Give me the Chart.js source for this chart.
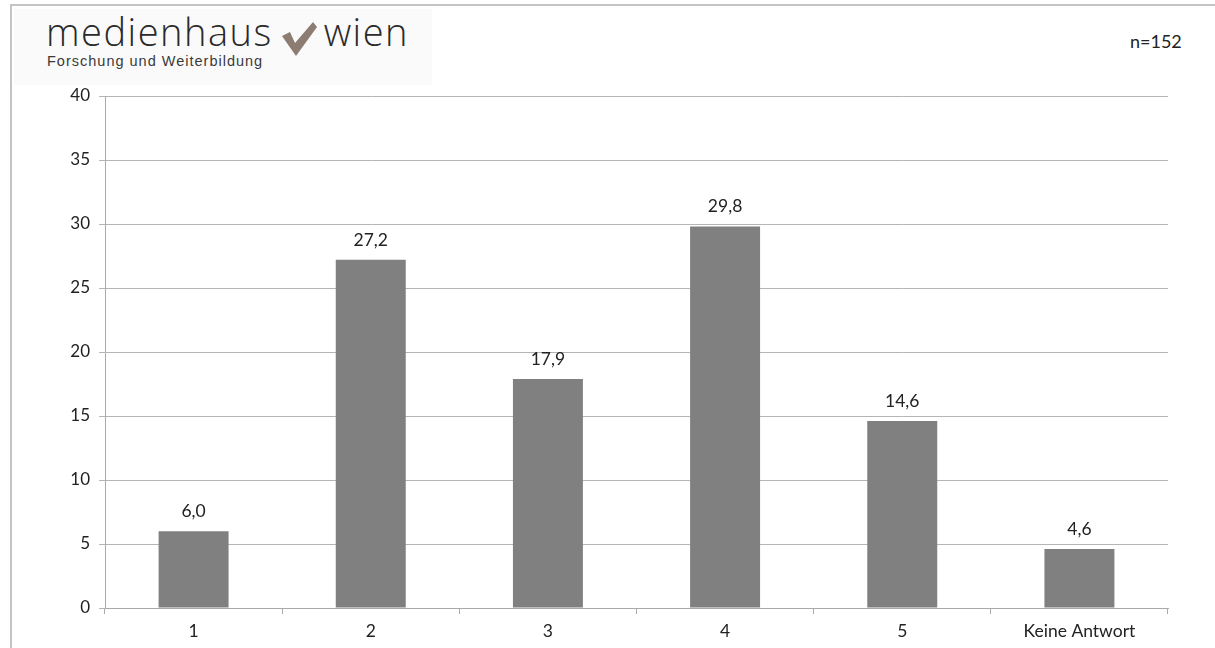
<!DOCTYPE html>
<html>
<head>
<meta charset="utf-8">
<script src="https://cdn.jsdelivr.net/npm/chart.js@4"></script>
<style>
  html, body { margin:0; padding:0; background:#fff; }
  #wrap { position:relative; width:1215px; height:648px; overflow:hidden; background:#fff; }
  #frameTop { position:absolute; left:10px; top:4px; width:1205px; height:2px; background:#c4c4c4; }
  #frameLeft { position:absolute; left:10px; top:4px; width:2px; height:644px; background:#c4c4c4; }
  #logo { position:absolute; left:14px; top:9px; width:418px; height:76px; background:#fafafa; }
  #logoMain { position:absolute; left:32px; top:2px; font-family:"Open Sans","Liberation Sans",sans-serif; font-weight:300; font-size:38px; color:#2a2a2a; white-space:nowrap; line-height:40px; letter-spacing:1.5px; }
  #logoMain .chk { display:inline-block; width:35px; height:35px; vertical-align:-10px; margin:0 7px 0 9px; }
  #logoSub { position:absolute; left:33px; top:44px; font-family:"Liberation Sans",sans-serif; font-size:14.5px; color:#3a3a3a; white-space:nowrap; letter-spacing:1px; }
  #nlabel { position:absolute; left:1130px; top:30px; font-family:"Lato","Open Sans",sans-serif; font-size:18px; color:#222; }
  #chartBox { position:absolute; left:0; top:0; width:1215px; height:648px; }
</style>
</head>
<body>
<div id="wrap">
  <div id="logo">
    <div id="logoMain">medienhaus<svg class="chk" viewBox="0 0 35 35"><path d="M0 15 L8 11 L13 22 L31 1 L35 6 L14 35 Z" fill="#8c7c71"/></svg>wien</div>
    <div id="logoSub">Forschung und Weiterbildung</div>
  </div>
  <div id="frameTop"></div>
  <div id="frameLeft"></div>
  <div id="nlabel">n=152</div>
  <div id="chartBox"><canvas id="c"></canvas></div>
</div>
<script>
const categories = ["1", "2", "3", "4", "5", "Keine Antwort"];
const values = [6.0, 27.2, 17.9, 29.8, 14.6, 4.6];
const yTicks = [0, 5, 10, 15, 20, 25, 30, 35, 40];

const valueLabels = {
  id: 'valueLabels',
  afterDatasetsDraw(chart) {
    const ctx = chart.ctx;
    const meta = chart.getDatasetMeta(0);
    ctx.save();
    ctx.font = '17.5px Lato, "Open Sans", sans-serif';
    ctx.fillStyle = '#222';
    ctx.textAlign = 'center';
    ctx.textBaseline = 'bottom';
    meta.data.forEach((bar, i) => {
      const v = chart.data.datasets[0].data[i];
      ctx.fillText(v.toFixed(1).replace('.', ','), bar.x, bar.y - 11);
    });
    ctx.restore();
  }
};

new Chart(document.getElementById('c'), {
  type: 'bar',
  data: {
    labels: categories,
    datasets: [{
      data: values,
      backgroundColor: '#808080',
      borderWidth: 0,
      barPercentage: 0.395,
      categoryPercentage: 1.0
    }]
  },
  options: {
    responsive: true,
    maintainAspectRatio: false,
    animation: false,
    layout: { padding: { left: 0, right: 47, top: 96, bottom: 0 } },
    plugins: { legend: { display: false }, tooltip: { enabled: false } },
    scales: {
      x: {
        offset: true,
        grid: { offset: true, drawOnChartArea: false, drawTicks: true, tickLength: 6, color: '#aaaaaa', lineWidth: 1 },
        border: { color: '#aaaaaa', width: 1 },
        ticks: { color: '#222', font: { family: 'Lato, "Open Sans", sans-serif', size: 17.5 }, padding: 7, maxRotation: 0 },
        afterFit(scale) { scale.height = 40; }
      },
      y: {
        min: 0, max: 40,
        afterBuildTicks(scale) { scale.ticks = yTicks.map(v => ({ value: v })); },
        grid: { color: '#b5b5b5', lineWidth: 1, drawTicks: true, tickLength: 6 },
        border: { color: '#aaaaaa', width: 1 },
        ticks: { color: '#222', font: { family: 'Lato, "Open Sans", sans-serif', size: 17 }, padding: 9 },
        afterFit(scale) { scale.width = 105; }
      }
    }
  },
  plugins: [valueLabels]
});
</script>
</body>
</html>
